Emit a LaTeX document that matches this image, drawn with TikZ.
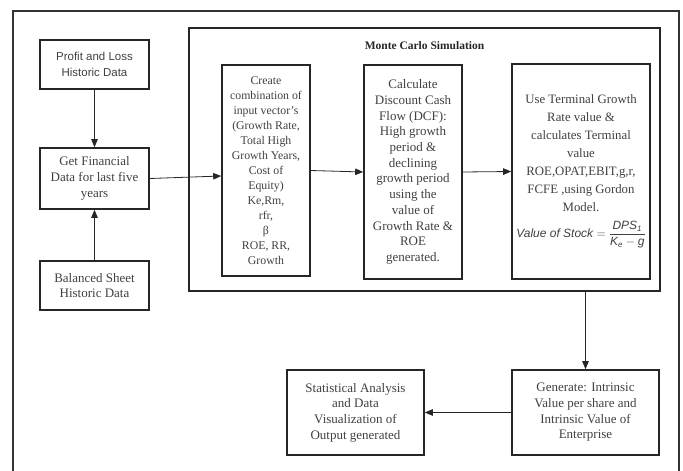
\documentclass[tikz,border=0pt]{standalone}
\usepackage{fontspec}
\usepackage{amsmath}
\setmainfont{Liberation Serif}
\setsansfont{Liberation Sans}
\usetikzlibrary{arrows.meta}
\tikzstyle{block} = [draw=black!85, line width=1.6pt, align=center, text=black!75, inner sep=2pt, font=\fontsize{13}{15.7}\selectfont]
\tikzstyle{arr} = [-{Triangle[length=8pt,width=6.5pt]}, line width=0.8pt, black!85]
\newcommand{\fv}[1]{\textsf{\textit{#1}}}

\begin{document}
\begin{tikzpicture}[x=1pt,y=-1pt]
    \useasboundingbox (0,0) rectangle (683,471);
    \draw [line width=1.2pt, black!80] (13,471) -- (13,11) -- (679,11) -- (679,471);
    % simulation frame
    \node [draw=black!85, line width=1.6pt, minimum width=471pt, minimum height=263pt] (mcs) at (424.5,159.5) {};
    \node [font=\bfseries\fontsize{11.5}{13}\selectfont, text=black!85] (mct) at (424.5,46) {Monte Carlo Simulation};
    % input data
    \node [block, font=\sffamily\fontsize{11.5}{16}\selectfont, minimum width=109pt, minimum height=49pt] (pl) at (94.5,64.5) {Profit and Loss\\Historic Data};
    \node [block, minimum width=109pt, minimum height=61pt] (gfd) at (94.5,178.5) {Get Financial\\Data for last five\\years};
    \node [block, minimum width=109pt, minimum height=49pt] (bs) at (94.5,285.5) {Balanced Sheet\\Historic Data};
    % simulation steps
    \node [block, font=\fontsize{11.8}{15}\selectfont, minimum width=88pt, minimum height=211pt] (cc) at (266,170.5) {Create\\combination of\\input vector’s\\(Growth Rate,\\Total High\\Growth Years,\\Cost of\\Equity)\\Ke,Rm,\\rfr,\\β\\ROE, RR,\\Growth};
    \node [block, minimum width=98pt, minimum height=214pt] (dcf) at (413,172) {Calculate\\Discount Cash\\Flow (DCF):\\High growth\\period \&\\declining\\growth period\\using the\\value of\\Growth Rate \&\\ROE\\generated.};
    \node [block, font=\fontsize{12.8}{18}\selectfont, minimum width=138pt, minimum height=215pt] (tv) at (581,171.5) {Use Terminal Growth\\Rate value \&\\calculates Terminal\\value\\ROE,OPAT,EBIT,g,r,\\FCFE ,using Gordon\\Model.\\[8pt]{\sffamily\itshape\fontsize{12}{14}\selectfont Value of Stock $=\dfrac{\fv{DPS}_{\fv{1}}}{\fv{K}_{\fv{e}}-\fv{g}}$}};
    % results
    \node [block, minimum width=147pt, minimum height=85pt] (gen) at (585.5,412.5) {Generate: Intrinsic\\Value per share and\\Intrinsic Value of\\Enterprise};
    \node [block, minimum width=137pt, minimum height=85pt] (sa) at (355.5,412.5) {Statistical Analysis\\and Data\\Visualization of\\Output generated};
    \draw [arr] (pl.south) -- (gfd.north);
    \draw [arr] (bs.north) -- (gfd.south);
    \draw [arr] (gfd.east) -- ([yshift=-5.5pt]cc.west);
    \draw [arr] (cc.east) -- (dcf.west);
    \draw [arr] (dcf.east) -- (tv.west);
    \draw [arr] (mcs.south -| gen.north) -- (gen.north);
    \draw [arr] (gen.west) -- (sa.east);
\end{tikzpicture}
\end{document}
